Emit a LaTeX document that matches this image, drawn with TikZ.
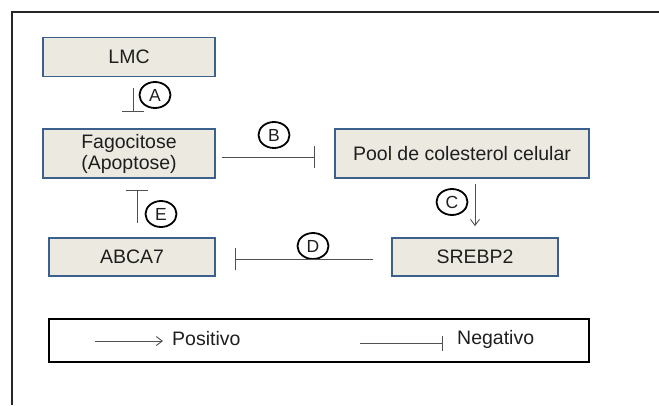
\documentclass[tikz,border=0pt]{standalone}
\usepackage{fontspec}
\setmainfont{Liberation Sans}
\usepackage{tikz}
\usetikzlibrary{arrows.meta,shapes.geometric,positioning}

\definecolor{boxfill}{RGB}{236,233,224}
\definecolor{boxline}{RGB}{60,96,140}
\definecolor{txtgray}{RGB}{30,30,30}
\definecolor{lngray}{RGB}{80,80,80}

\begin{document}
\begin{tikzpicture}[x=1pt,y=-1pt,
squarednode/.style={rectangle, draw=boxline, fill=boxfill, line width=1.8pt, text=txtgray, align=center, inner sep=0pt, font=\fontsize{19.5}{21}\selectfont},
letternode/.style={ellipse, draw=black, line width=1.8pt, minimum width=31pt, minimum height=26pt, inner sep=0pt, text=txtgray, font=\fontsize{17.5}{17}\selectfont},
legendtext/.style={anchor=west, inner sep=0pt, text=txtgray, font=\fontsize{19.5}{21}\selectfont},
neg/.style={draw=lngray, line width=0.9pt, -{Bar[width=22pt,line width=0.9pt]}},
posi/.style={draw=lngray, line width=0.9pt, -{Straight Barb[length=6pt,width=9pt,line width=0.9pt]}},
]
\useasboundingbox (0,0) rectangle (659,405);

%Frame
\draw[line width=2.4pt, black!85] (12,405) -- (12,12) -- (659,12);

%Nodes
\node[squarednode, minimum width=172pt, minimum height=39pt] (lmc)   at (129,57)    {LMC};
\node[squarednode, minimum width=172pt, minimum height=49pt] (fago)  at (129,153.5) {Fagocitose\\(Apoptose)};
\node[squarednode, minimum width=254pt, minimum height=49pt] (pool)  at (462,153.5) {Pool de colesterol celular};
\node[squarednode, minimum width=166pt, minimum height=38pt] (abca)  at (132,257)   {ABCA7};
\node[squarednode, minimum width=166pt, minimum height=38pt] (srebp) at (475,257)   {SREBP2};

\node[letternode] (la) at (155,95)  {A};
\node[letternode] (lb) at (274,135) {B};
\node[letternode] (lc) at (452,202) {C};
\node[letternode] (ld) at (313,246) {D};
\node[letternode] (le) at (161,214) {E};

%Lines
\draw[neg, shorten <=11pt, shorten >=16pt] ([xshift=4pt]lmc.south) -- ([xshift=4pt]fago.north);
\draw[neg, shorten <=6pt, shorten >=19pt] ([yshift=-3.5pt]fago.east) -- ([yshift=-3.5pt]pool.west);
\draw[posi, shorten <=5pt, shorten >=11pt] (pool.south -| srebp.north) -- (srebp.north);
\draw[neg, shorten <=18pt, shorten >=19pt] ([yshift=-2pt]srebp.west) -- ([yshift=-2pt]abca.east);
\draw[neg, shorten <=14pt, shorten >=11pt] ([xshift=5pt]abca.north) -- ([xshift=5pt]abca.north |- fago.south);

%Legend
\node[rectangle, draw=black, line width=2.4pt, minimum width=540pt, minimum height=43pt] (legend) at (319,340.5) {};
\node[legendtext] (positivo) at (172,339) {Positivo};
\node[legendtext] (negativo) at (457,339) {Negativo};
\coordinate (posstart) at (95,341);
\coordinate (negstart) at (360,343);
\draw[posi, shorten >=9pt] (posstart) -- (posstart -| positivo.west);
\draw[neg, -{Bar[width=15pt,line width=0.9pt]}, shorten >=14pt] (negstart) -- (negstart -| negativo.west);

\end{tikzpicture}
\end{document}
